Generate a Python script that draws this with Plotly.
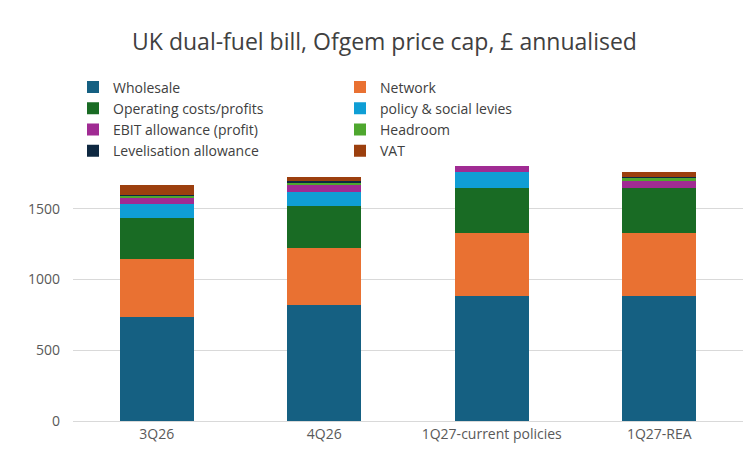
import plotly.graph_objects as go
import numpy as np

quarters = ["3Q26", "4Q26", "1Q27-current policies", "1Q27-REA"]
components = ["Wholesale", "Network", "Operating costs/profits", "policy & social levies",
              "EBIT allowance (profit)", "Headroom", "Levelisation allowance", "VAT"]
# cumulative tops
tops = {
    "3Q26": [736, 1146, 1436, 1535, 1578, 1594, 1596, 1670],
    "4Q26": [821, 1225, 1521, 1620, 1670, 1684, 1698, 1726],
    "1Q27-current policies": [884, 1330, 1648, 1762, 1809, 1832, 1839, 1875],
    "1Q27-REA": [884, 1330, 1648, 1648, 1696, 1719, 1724, 1762],
}
colors = ["#156082", "#E97132", "#196B24", "#0F9ED5", "#A02B93", "#4EA72E", "#0E2841", "#9C3F0E"]

vals = np.array([np.diff([0] + tops[q]) for q in quarters]).T

fig = go.Figure()
for name, v, c in zip(components, vals, colors):
    fig.add_trace(go.Bar(x=quarters, y=v, name=name, marker_color=c, marker_line_width=0))

fig.update_layout(
    width=753, height=452, barmode="stack", bargap=0.56,
    font=dict(family="Open Sans", size=14, color="#595959"),
    paper_bgcolor="white", plot_bgcolor="white",
    title=dict(text="UK dual-fuel bill, Ofgem price cap, £ annualised", x=0.5, y=0.925,
               xanchor="center", yanchor="middle", font=dict(size=23, color="#404040")),
    margin=dict(l=65, r=18, t=130, b=39),
    legend=dict(orientation="h", x=0.0, y=1.235, xanchor="left", yanchor="top",
                entrywidth=222, traceorder="normal", tracegroupgap=0,
                font=dict(size=14, color="#404040")),
    yaxis=dict(range=[0, 2000], tickvals=[0, 500, 1000, 1500], gridcolor="#D9D9D9",
               zeroline=False, showline=False, ticks="", ticklabelstandoff=12),
    xaxis=dict(showline=True, linecolor="#D9D9D9", ticks=""),
)
fig.write_html("out.html")
